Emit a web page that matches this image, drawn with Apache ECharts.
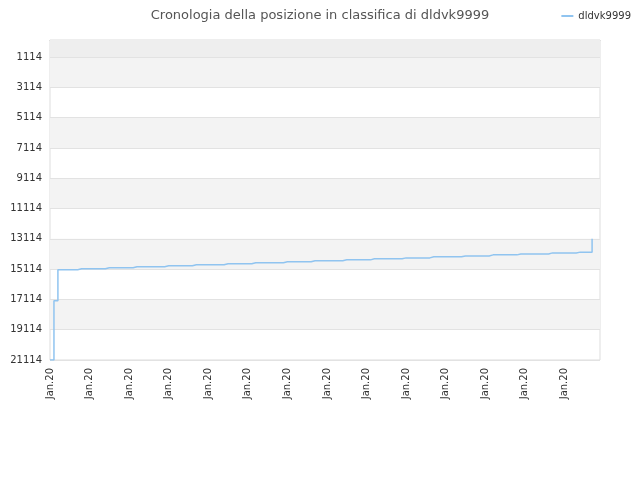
<!DOCTYPE html><html><head><meta charset="utf-8">
<script src="https://cdn.jsdelivr.net/npm/echarts@6/dist/echarts.min.js"></script>
<style>html,body{margin:0}#c{width:640px;height:480px}</style></head><body><div id="c"></div><script>
const title = "Cronologia della posizione in classifica di dldvk9999";
const seriesName = "dldvk9999";
const yTicks = [1114,3114,5114,7114,9114,11114,13114,15114,17114,19114,21114];
// run-length data: [rank, number of days]
const runs = [[21114,1],[17200,1],[15150,5],[15090,7],[15020,7],[14950,8],[14890,7],[14820,8],[14760,7],[14690,8],[14630,7],[14560,8],[14500,7],[14430,8],[14370,7],[14300,8],[14240,7],[14170,7],[14110,8],[14040,7],[13990,4],[13114,1]];
const values = [];
runs.forEach(r => { for (let i = 0; i < r[1]; i++) values.push(r[0]); });
const categories = values.map(() => "Jan.20").concat(["Jan.20","Jan.20"]);
const bands = [[-20,1114,'#eeeeee'],[1114,3114,'#f3f3f3'],[5114,7114,'#f3f3f3'],[9114,11114,'#f3f3f3'],[13114,15114,'#f3f3f3'],[17114,19114,'#f3f3f3']];
const chart = echarts.init(document.getElementById('c'));
chart.setOption({
  animation:false,
  title:{text:title,left:'center',top:4,textStyle:{fontSize:13,fontWeight:'normal',color:'#555',fontFamily:'DejaVu Sans'}},
  legend:{right:4,top:6,itemWidth:12,itemHeight:2,itemGap:6,icon:'rect',textStyle:{fontSize:10,color:'#333',fontFamily:'DejaVu Sans'},data:[seriesName]},
  grid:{left:50,right:40,top:40,bottom:120,show:true,borderColor:'#dddddd',borderWidth:1},
  xAxis:{type:'category',data:categories,boundaryGap:false,
    axisLine:{lineStyle:{color:'#ccc'}},axisTick:{show:false},
    axisLabel:{interval:9,rotate:90,fontSize:10,color:'#333',fontFamily:'DejaVu Sans'}},
  yAxis:{type:'value',inverse:true,min:-20,max:21114,
    axisLine:{show:false},axisTick:{show:false},splitLine:{show:false},
    axisLabel:{customValues:yTicks,formatter:v=>String(v),fontSize:10,color:'#333',fontFamily:'DejaVu Sans',margin:8}},
  series:[{name:seriesName,type:'line',step:'end',data:values,showSymbol:false,
    lineStyle:{color:'#90c4f0',width:1.5},itemStyle:{color:'#90c4f0'},z:5,
    markArea:{silent:true,data:bands.map(b=>[{yAxis:b[0],itemStyle:{color:b[2]}},{yAxis:b[1]}])},
    markLine:{silent:true,symbol:'none',label:{show:false},lineStyle:{color:'#e2e2e2',type:'solid',width:1},data:yTicks.map(v=>({yAxis:v}))}
  }]
});
</script></body></html>
